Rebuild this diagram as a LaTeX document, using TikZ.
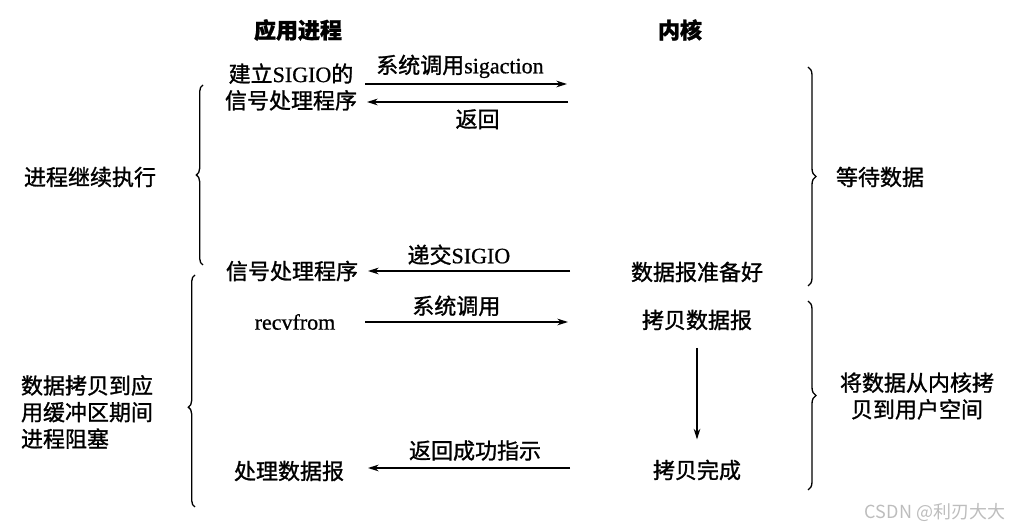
\documentclass[tikz,border=0pt]{standalone}
\usepackage{fontspec}
\setmainfont{Noto Sans CJK SC}[FakeBold=1.2]
\newfontfamily\latinrm{Liberation Serif}[FakeBold=0.8]
\newfontfamily\markfont{Noto Sans CJK SC}
\newcommand{\en}[1]{{\latinrm #1}}
\usetikzlibrary{arrows.meta,positioning,decorations.pathreplacing}
\definecolor{markgray}{HTML}{BDBDBD}
\tikzset{
  txt/.style={font=\fontsize{16.5}{20}\selectfont,inner sep=1pt},
  head/.style={font=\bfseries\fontsize{16.5}{20}\selectfont,inner sep=1pt},
  msg/.style={-{Stealth[length=8pt,width=5pt]},line width=0.9pt},
  brc/.style={decorate,decoration={brace,amplitude=5pt},line width=1pt},
}

\begin{document}
\begin{tikzpicture}[x=0.75pt,y=-0.75pt]
    \useasboundingbox (0,0) rectangle (1015,530);
    % column heads
    \node[head] (app) at (298,30) {应用进程};
    \node[head] (kern) at (680,30) {内核};
    % left column (application)
    \node[txt,align=center] (setup) at (291,87) {建立\en{SIGIO}的\\信号处理程序};
    \node[txt] (handler) at (292,271) {信号处理程序};
    \node[txt] (recv) at (295,322) {\en{recvfrom}};
    \node[txt] (proc) at (289,471) {处理数据报};
    % right column (kernel)
    \node[txt] (ready) at (697,272) {数据报准备好};
    \node[txt] (copy) at (697,320) {拷贝数据报};
    \node[txt] (done) at (697,470) {拷贝完成};
    % arrow ends
    \coordinate (a1) at (365,84);  \coordinate (k1) at (567,84);
    \coordinate (a2) at (367,102); \coordinate (k2) at (568,102);
    \coordinate (a3) at (368,271); \coordinate (k3) at (570,271);
    \coordinate (a4) at (365,322); \coordinate (k4) at (568,322);
    \coordinate (a5) at (368,468); \coordinate (k5) at (570,468);
    \draw[msg] (a1) -- node[txt,above=3pt,pos=0.47] {系统调用\en{sigaction}} (k1);
    \draw[msg] (k2) -- node[txt,below=4pt,pos=0.45] {返回} (a2);
    \draw[msg] (k3) -- node[txt,above=3pt,pos=0.55] {递交\en{SIGIO}} (a3);
    \draw[msg] (a4) -- node[txt,above=3pt,pos=0.45] {系统调用} (k4);
    \draw[msg] (k5) -- node[txt,above=4pt,pos=0.47] {返回成功指示} (a5);
    \draw[msg,shorten <=12pt,shorten >=14pt] (copy) -- (done);
    % braces
    \draw[brc] (203,265) -- (203,85);
    \draw[brc,decoration={aspect=0.43}] (195,507) -- (195,275);
    \draw[brc,decoration={amplitude=6pt}] (808,67) -- (808,286);
    \draw[brc,decoration={amplitude=6pt}] (808,301) -- (808,490);
    \node[txt] (cont) at (90,177) {进程继续执行};
    \node[txt,align=left] (block) at (87,412) {数据拷贝到应\\用缓冲区期间\\进程阻塞};
    \node[txt] (wait) at (880,177) {等待数据};
    \node[txt,align=center] (kcopy) at (917,396) {将数据从内核拷\\贝到用户空间};
    \node[font=\markfont\fontsize{13.5}{16}\selectfont,text=markgray] (mark) at (935,513) {CSDN @利刃大大};
\end{tikzpicture}
\end{document}
